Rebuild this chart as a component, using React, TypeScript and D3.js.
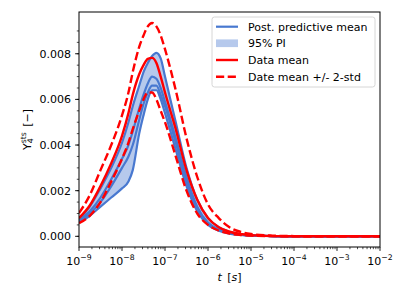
import React from "react";
import * as d3 from "d3";

// log10(t) sample grid
const logT = [-9, -8.75, -8.5, -8.25, -8, -7.85, -7.75, -7.6, -7.5, -7.4, -7.3, -7.2, -7.1, -7, -6.75, -6.5, -6.25, -6, -5.75, -5.5, -5.25, -5, -4.5, -4, -3, -2];

const dataMean = [0.0008, 0.00135, 0.0022, 0.0032, 0.0044, 0.0054, 0.0062, 0.0071, 0.0075, 0.00778, 0.00782, 0.0076, 0.007, 0.0063, 0.0047, 0.0029, 0.0016, 0.0008, 0.0004, 0.0002, 0.0001, 0.00005, 0.00001, 0, 0, 0];
const dataUpper = [0.00102, 0.0018, 0.0029, 0.004, 0.0053, 0.0063, 0.0072, 0.0083, 0.0088, 0.0092, 0.00935, 0.0092, 0.0088, 0.0082, 0.0064, 0.0043, 0.0026, 0.0014, 0.0008, 0.0004, 0.0002, 0.0001, 0.00003, 0.00001, 0, 0];
const dataLower = [0.00058, 0.0009, 0.0015, 0.0024, 0.0034, 0.0041, 0.0047, 0.0055, 0.006, 0.0063, 0.0063, 0.006, 0.0055, 0.005, 0.0035, 0.002, 0.001, 0.0005, 0.00025, 0.00012, 0.00006, 0.00003, 0.00001, 0, 0, 0];
const piUpper = [0.00075, 0.0013, 0.0021, 0.003, 0.0041, 0.005, 0.0057, 0.0066, 0.0072, 0.0076, 0.0079, 0.00804, 0.0078, 0.007, 0.005, 0.003, 0.0016, 0.0008, 0.0004, 0.0002, 0.0001, 0.00005, 0.00001, 0, 0, 0];
const piLower = [0.0006, 0.0009, 0.0013, 0.0017, 0.0021, 0.0024, 0.0029, 0.0045, 0.0053, 0.006, 0.0064, 0.0064, 0.006, 0.0054, 0.0038, 0.0022, 0.0011, 0.0005, 0.00025, 0.00012, 0.00006, 0.00003, 0.00001, 0, 0, 0];
const postMeanA = [0.0007, 0.0011, 0.0017, 0.0025, 0.0034, 0.004, 0.0046, 0.0056, 0.0062, 0.0067, 0.007, 0.0069, 0.0065, 0.0059, 0.0043, 0.0026, 0.0013, 0.0006, 0.0003, 0.00015, 0.00007, 0.00003, 0.00001, 0, 0, 0];
const postMeanB = [0.00065, 0.001, 0.0015, 0.0022, 0.003, 0.0035, 0.004, 0.0051, 0.0058, 0.0063, 0.0066, 0.0066, 0.0062, 0.0057, 0.0041, 0.0024, 0.0012, 0.00055, 0.00028, 0.00014, 0.00007, 0.00003, 0.00001, 0, 0, 0];

const yTicks = [0, 0.002, 0.004, 0.006, 0.008];
const xTickExps = [-9, -8, -7, -6, -5, -4, -3, -2];
const legendLabels = ["Post. predictive mean", "95% PI", "Data mean", "Date mean +/- 2-std"];

const BLUE = "#4878d0";
const RED = "#ff0000";
const FONT = "DejaVu Sans";

export default function App() {
  const W = 407, H = 305;
  const L = 79, R = 380, T = 12, B = 247;
  const x = d3.scaleLog().domain([1e-9, 1e-2]).range([L, R]);
  const y = d3.scaleLinear().domain([-0.000468, 0.00983]).range([B, T]);

  const pts = (vals: number[]) => logT.map((lt, i) => [x(Math.pow(10, lt)), y(vals[i])] as [number, number]);
  const line = d3.line<[number, number]>().curve(d3.curveMonotoneX);
  const area = d3
    .area<number>()
    .x((_, i) => x(Math.pow(10, logT[i])))
    .y0((_, i) => y(piLower[i]))
    .y1((_, i) => y(piUpper[i]))
    .curve(d3.curveMonotoneX);

  const minorX: number[] = [];
  for (let e = -9; e < -2; e++) for (let k = 2; k <= 9; k++) minorX.push(k * Math.pow(10, e));
  const minorY: number[] = [];
  for (let v = -0.0; v <= 0.0095; v += 0.0005) minorY.push(+v.toFixed(4));

  const fs = 11;
  const lgX = 212, lgY = 17, lgW = 163, lgH = 70;
  const rowY = [26.7, 43.3, 60, 76.7];

  return (
    <svg width={W} height={H} style={{ display: "block", position: "absolute", left: 0, top: 0 }} fontFamily={FONT}>
      <rect x={0} y={0} width={W} height={H} fill="#fff" />
      <defs>
        <clipPath id="plotclip">
          <rect x={L} y={T} width={R - L} height={B - T} />
        </clipPath>
      </defs>
      <g clipPath="url(#plotclip)">
        <path d={area(logT.map((_, i) => i)) || ""} fill={BLUE} fillOpacity={0.4} stroke="none" />
        {[piUpper, piLower, postMeanA, postMeanB].map((s, i) => (
          <path key={"b" + i} d={line(pts(s)) || ""} fill="none" stroke={BLUE} strokeWidth={2.2} />
        ))}
        <path d={line(pts(dataMean)) || ""} fill="none" stroke={RED} strokeWidth={2.4} />
        {[dataUpper, dataLower].map((s, i) => (
          <path key={"r" + i} d={line(pts(s)) || ""} fill="none" stroke={RED} strokeWidth={2.4} strokeDasharray="8.2,3.5" />
        ))}
      </g>
      {/* spines */}
      <rect x={L} y={T} width={R - L} height={B - T} fill="none" stroke="#000" strokeWidth={1} />
      {/* x ticks */}
      {minorX.map((v, i) => (
        <line key={"mx" + i} x1={x(v)} x2={x(v)} y1={B} y2={B + 2.2} stroke="#000" strokeWidth={0.7} />
      ))}
      {xTickExps.map((e) => (
        <g key={"x" + e}>
          <line x1={x(Math.pow(10, e))} x2={x(Math.pow(10, e))} y1={B} y2={B + 3.9} stroke="#000" strokeWidth={0.9} />
          <text x={x(Math.pow(10, e))} y={265} fontSize={fs} textAnchor="middle">
            10<tspan fontSize={7.7} dy={-4.6}>{"\u2212" + Math.abs(e)}</tspan>
          </text>
        </g>
      ))}
      {/* y ticks */}
      {minorY.map((v, i) => (
        <line key={"my" + i} x1={L - 2.2} x2={L} y1={y(v)} y2={y(v)} stroke="#000" strokeWidth={0.7} />
      ))}
      {yTicks.map((v) => (
        <g key={"y" + v}>
          <line x1={L - 3.9} x2={L} y1={y(v)} y2={y(v)} stroke="#000" strokeWidth={0.9} />
          <text x={71} y={y(v) + 4} fontSize={fs} textAnchor="end">{v.toFixed(3)}</text>
        </g>
      ))}
      {/* axis labels */}
      <text x={229.5} y={281} fontSize={fs} textAnchor="middle">
        <tspan fontStyle="italic">t</tspan>
        <tspan>{"\u2002["}</tspan>
        <tspan fontStyle="italic">s</tspan>
        <tspan>]</tspan>
      </text>
      <text transform={`translate(31,129.5) rotate(-90)`} fontSize={fs} textAnchor="middle">
        Y<tspan fontSize={7.7} dy={2.2}>4</tspan>
        <tspan fontSize={7.7} dx={-4.9} dy={-6.8}>sts</tspan>
        <tspan dy={4.6}>{"\u2002[\u2212]"}</tspan>
      </text>
      {/* legend */}
      <rect x={lgX} y={lgY} width={lgW} height={lgH} rx={2.5} fill="#fff" fillOpacity={0.8} stroke="#cccccc" strokeWidth={0.8} />
      <line x1={216} x2={238} y1={rowY[0]} y2={rowY[0]} stroke={BLUE} strokeWidth={2.2} />
      <rect x={216} y={rowY[1] - 3.9} width={22} height={7.7} fill={BLUE} fillOpacity={0.4} />
      <line x1={216} x2={238} y1={rowY[2]} y2={rowY[2]} stroke={RED} strokeWidth={2.4} />
      <line x1={216} x2={238} y1={rowY[3]} y2={rowY[3]} stroke={RED} strokeWidth={2.4} strokeDasharray="8.2,3.5" />
      {legendLabels.map((t, i) => (
        <text key={t} x={248} y={rowY[i] + 4} fontSize={fs}>{t}</text>
      ))}
    </svg>
  );
}
